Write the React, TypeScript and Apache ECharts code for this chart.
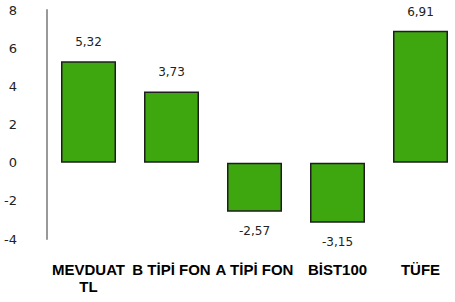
import React, { useEffect, useRef } from "react";
import * as echarts from "echarts";

const categories = ["MEVDUAT TL", "B TİPİ FON", "A TİPİ FON", "BİST100", "TÜFE"];
const values = [5.32, 3.73, -2.57, -3.15, 6.91];
const yTicks = { min: -4, max: 8, interval: 2 };

export default function App() {
  const ref = useRef<HTMLDivElement>(null);
  useEffect(() => {
    if (!ref.current) return;
    const chart = echarts.init(ref.current, null, { renderer: "svg" });
    chart.setOption({
      animation: false,
      grid: { left: 47, top: 10, right: 8, bottom: 63, containLabel: false, outerBoundsMode: "none" },
      xAxis: {
        type: "category",
        data: categories,
        axisLine: { show: false },
        axisTick: { show: false },
        axisLabel: {
          interval: 0,
          margin: 22,
          fontSize: 15,
          fontWeight: "bold",
          fontFamily: "Liberation Sans",
          color: "#000",
          lineHeight: 17,
          formatter: (v: string) => (v === "MEVDUAT TL" ? "MEVDUAT\nTL" : v),
        },
      },
      yAxis: {
        type: "value",
        min: yTicks.min,
        max: yTicks.max,
        interval: yTicks.interval,
        splitLine: { show: false },
        axisTick: { show: false },
        axisLine: { show: true, lineStyle: { color: "#999", width: 2 } },
        axisLabel: { margin: 30, fontSize: 13, color: "#222", fontFamily: "DejaVu Sans" },
      },
      series: [
        {
          type: "bar",
          data: values.map((v) =>
            v < 0 ? { value: v, label: { position: "bottom" } } : v
          ),
          barWidth: 55,
          itemStyle: { color: "#3ea60f", borderColor: "#1e1e1e", borderWidth: 1.5 },
          label: {
            show: true,
            position: "top",
            distance: 13,
            fontSize: 12,
            color: "#222",
            fontFamily: "DejaVu Sans",
            formatter: (p: any) => p.value.toFixed(2).replace(".", ","),
          },
        },
      ],
    });
    return () => chart.dispose();
  }, []);
  return (
    <div style={{ width: 455, height: 302, position: "absolute", left: 0, top: 0, overflow: "hidden" }}>
      <div ref={ref} style={{ width: 470, height: 302 }} />
    </div>
  );
}
